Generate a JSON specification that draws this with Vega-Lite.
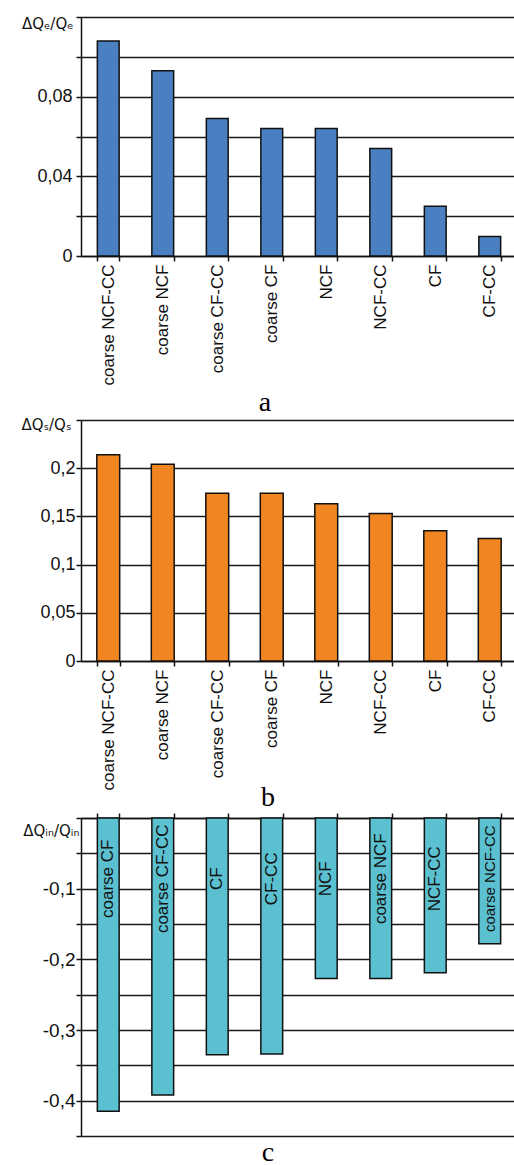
{
  "$schema": "https://vega.github.io/schema/vega-lite/v6.json",
  "padding": {"left": 20, "top": 16, "right": 0, "bottom": 0},
  "spacing": 0,
  "background": "white",
  "datasets": {
    "a": [
      {"cat": "coarse NCF-CC", "v": 0.108},
      {"cat": "coarse NCF", "v": 0.093},
      {"cat": "coarse CF-CC", "v": 0.069},
      {"cat": "coarse CF", "v": 0.064},
      {"cat": "NCF", "v": 0.064},
      {"cat": "NCF-CC", "v": 0.054},
      {"cat": "CF", "v": 0.025},
      {"cat": "CF-CC", "v": 0.0098}
    ],
    "b": [
      {"cat": "coarse NCF-CC", "v": 0.214},
      {"cat": "coarse NCF", "v": 0.204},
      {"cat": "coarse CF-CC", "v": 0.174},
      {"cat": "coarse CF", "v": 0.174},
      {"cat": "NCF", "v": 0.163},
      {"cat": "NCF-CC", "v": 0.153},
      {"cat": "CF", "v": 0.135},
      {"cat": "CF-CC", "v": 0.127}
    ],
    "c": [
      {"cat": "coarse CF", "v": -0.415},
      {"cat": "coarse CF-CC", "v": -0.392},
      {"cat": "CF", "v": -0.335},
      {"cat": "CF-CC", "v": -0.334},
      {"cat": "NCF", "v": -0.227},
      {"cat": "coarse NCF", "v": -0.227},
      {"cat": "NCF-CC", "v": -0.219},
      {"cat": "coarse NCF-CC", "v": -0.178}
    ]
  },
  "config": {
    "view": {"stroke": null},
    "font": "Liberation Sans",
    "axis": {
      "domainColor": "#111", "domainWidth": 1.5,
      "tickColor": "#111", "tickWidth": 1.5, "tickSize": 5,
      "labelColor": "#111", "titleColor": "#111",
      "labelFont": "Liberation Sans", "titleFont": "DejaVu Sans",
      "titleFontWeight": "normal",
      "gridColor": "#1a1a1a", "gridWidth": 1.3, "gridOpacity": 1
    },
    "title": {"font": "Liberation Serif", "fontSize": 28, "fontWeight": "normal", "color": "#000", "orient": "bottom", "anchor": "middle"}
  },
  "vconcat": [
    {
      "data": {"name": "a"},
      "width": 436,
      "height": 239,
      "title": {"text": "a", "dx": -34, "offset": 4},
      "mark": {"type": "bar", "color": "#4a7fc1", "stroke": "#111", "strokeWidth": 1.5},
      "encoding": {
        "x": {
          "field": "cat", "type": "nominal", "sort": null,
          "scale": {"paddingInner": 0.6, "paddingOuter": 0.3},
          "axis": {"title": null, "labelAngle": -90, "labelAlign": "right", "labelBaseline": "middle", "labelFontSize": 17, "labelPadding": 3, "tickBand": "extent", "labelLimit": 0}
        },
        "y": {
          "field": "v", "type": "quantitative",
          "scale": {"domain": [0, 0.12], "nice": false},
          "axis": {
            "values": [0, 0.02, 0.04, 0.06, 0.08, 0.1, 0.12],
            "grid": true,
            "labelExpr": "(datum.value == 0 || datum.value == 0.04 || datum.value == 0.08) ? replace(toString(datum.value), '.', ',') : ''",
            "labelFontSize": 18, "labelPadding": 4,
            "title": "ΔQₑ/Qₑ", "titleAngle": 0, "titleAlign": "right", "titleBaseline": "alphabetic",
            "titleX": -8, "titleY": 11, "titleFontSize": 15
          }
        }
      }
    },
    {
      "data": {"name": "b"},
      "width": 436,
      "height": 241,
      "title": {"text": "b", "dx": -31, "offset": -6},
      "mark": {"type": "bar", "color": "#f08522", "stroke": "#111", "strokeWidth": 1.5},
      "encoding": {
        "x": {
          "field": "cat", "type": "nominal", "sort": null,
          "scale": {"paddingInner": 0.58, "paddingOuter": 0.29},
          "axis": {"title": null, "labelAngle": -90, "labelAlign": "right", "labelBaseline": "middle", "labelFontSize": 17, "labelPadding": 3, "tickBand": "extent", "labelLimit": 0}
        },
        "y": {
          "field": "v", "type": "quantitative",
          "scale": {"domain": [0, 0.25], "nice": false},
          "axis": {
            "values": [0, 0.05, 0.1, 0.15, 0.2, 0.25],
            "grid": true,
            "labelExpr": "datum.value < 0.24 ? replace(toString(datum.value), '.', ',') : ''",
            "labelFontSize": 18, "labelPadding": 1,
            "title": "ΔQₛ/Qₛ", "titleAngle": 0, "titleAlign": "right", "titleBaseline": "alphabetic",
            "titleX": -10, "titleY": 9, "titleFontSize": 15
          }
        }
      }
    },
    {
      "data": {"name": "c"},
      "width": 436,
      "height": 318,
      "title": {"text": "c", "dx": -31, "offset": 2},
      "resolve": {"axis": {"y": "independent"}},
      "encoding": {
        "x": {
          "field": "cat", "type": "nominal", "sort": null,
          "scale": {"paddingInner": 0.6, "paddingOuter": 0.3},
          "axis": {"title": null, "orient": "top", "labels": false, "tickBand": "extent"}
        }
      },
      "layer": [
        {
          "mark": {"type": "bar", "color": "#5bc0cf", "stroke": "#111", "strokeWidth": 1.5},
          "encoding": {
            "y": {
              "field": "v", "type": "quantitative",
              "scale": {"domain": [-0.45, 0], "nice": false},
              "axis": {
                "orient": "left",
                "values": [-0.45, -0.4, -0.35, -0.3, -0.25, -0.2, -0.15, -0.1, -0.05, 0],
                "grid": true,
                "labelExpr": "(datum.value == -0.1 || datum.value == -0.2 || datum.value == -0.3 || datum.value == -0.4) ? replace(toString(datum.value), '.', ',') : ''",
                "labelFontSize": 19, "labelPadding": 1,
                "title": "ΔQᵢₙ/Qᵢₙ", "titleAngle": 0, "titleAlign": "right", "titleBaseline": "alphabetic",
                "titleX": -2, "titleY": 17, "titleFontSize": 15
              }
            }
          }
        },
        {
          "mark": {"type": "text", "angle": 270, "align": "center", "baseline": "middle", "font": "Liberation Sans", "color": "#111"},
          "encoding": {
            "y": {"datum": -0.086, "type": "quantitative", "axis": null},
            "text": {"field": "cat"},
            "size": {"condition": {"test": "datum.cat == 'coarse NCF-CC'", "value": 15}, "value": 17}
          }
        }
      ]
    }
  ]
}
